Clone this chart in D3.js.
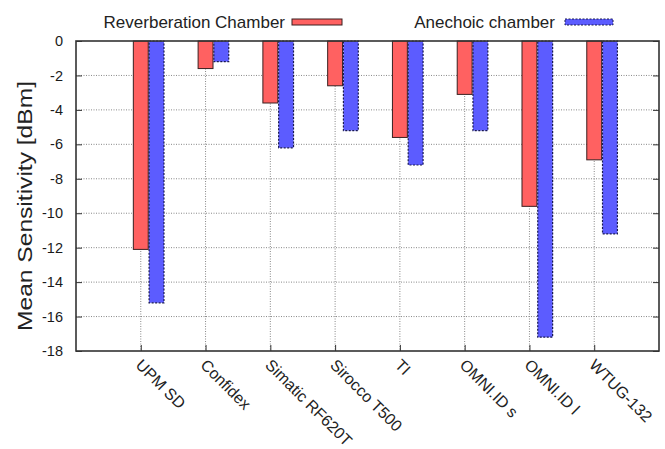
<!DOCTYPE html>
<html>
<head>
<meta charset="utf-8">
<script src="https://cdn.jsdelivr.net/npm/d3@7"></script>
<style>
  body { margin: 0; background: #fff; }
  text { font-family: "Liberation Sans", Arial, sans-serif; fill: #222; }
</style>
</head>
<body>
<div id="chart"></div>
<script>
// data
var devices = ["UPM SD", "Confidex", "Simatic RF620T", "Sirocco T500", "TI", "OMNI.ID s", "OMNI.ID l", "WTUG-132"]
var reverberation = [-12.1, -1.6, -3.6, -2.6, -5.6, -3.1, -9.6, -6.9]
var anechoic = [-15.2, -1.2, -6.2, -5.2, -7.2, -5.2, -17.2, -11.2]
var yTicks = [0, -2, -4, -6, -8, -10, -12, -14, -16, -18]
var seriesNames = ["Reverberation Chamber", "Anechoic chamber"]

const width = 665, height = 449;
const margin = {top: 41, right: 6, bottom: 98, left: 76};

var svg = d3.select('#chart').append('svg')
  .attr('width', width)
  .attr('height', height);

// gnuplot style xrange [-1:8], bars clustered right of each tick
const x = d3.scaleLinear().domain([-1, 8]).range([margin.left, width - margin.right]);
const y = d3.scaleLinear().domain([-18, 0]).range([height - margin.bottom, margin.top]);
const barW = 0.23;

// grid
svg.append('g').selectAll('line.hgrid')
  .data(yTicks.slice(1, -1))
  .enter().append('line')
    .attr('x1', x(-1)).attr('x2', x(8))
    .attr('y1', d => y(d)).attr('y2', d => y(d))
    .style('stroke', '#888').style('stroke-width', 1)
    .style('stroke-dasharray', '1,1.5');

svg.append('g').selectAll('line.vgrid')
  .data(devices)
  .enter().append('line')
    .attr('x1', (d, i) => x(i)).attr('x2', (d, i) => x(i))
    .attr('y1', y(0)).attr('y2', y(-18))
    .style('stroke', '#888').style('stroke-width', 1)
    .style('stroke-dasharray', '1,1.5');

// bars
svg.append('g').selectAll('rect')
  .data(reverberation)
  .enter().append('rect')
    .attr('x', (d, i) => x(i - barW / 2))
    .attr('y', y(0))
    .attr('width', x(barW) - x(0))
    .attr('height', d => y(d) - y(0))
    .style('fill', '#ff6161')
    .style('stroke', '#3a2020').style('stroke-width', 1);

svg.append('g').selectAll('rect')
  .data(anechoic)
  .enter().append('rect')
    .attr('x', (d, i) => x(i + barW / 2 + 0.013))
    .attr('y', y(0))
    .attr('width', x(barW) - x(0))
    .attr('height', d => y(d) - y(0))
    .style('fill', '#5c5cff')
    .style('stroke', '#1a1a50').style('stroke-width', 1.2)
    .style('stroke-dasharray', '2,1.5');

// frame
svg.append('rect')
  .attr('x', x(-1)).attr('y', y(0))
  .attr('width', x(8) - x(-1)).attr('height', y(-18) - y(0))
  .style('fill', 'none').style('stroke', '#333').style('stroke-width', 1.6);

// y axis: ticks inside on both sides
const yAxis = svg.append('g').attr('transform', `translate(${x(-1)},0)`)
  .call(d3.axisLeft(y).tickValues(yTicks).tickSize(-6).tickPadding(13).tickFormat(d3.format('d')));
yAxis.select('.domain').remove();
yAxis.selectAll('line').style('stroke', '#333');
yAxis.selectAll('text')
  .style('font-size', '14.5px').style('font-family', '"Liberation Sans", Arial, sans-serif').style('fill', '#1a1a1a')
  .text(d => d === 0 ? '0' : String(d).replace('−', '-'));

const yAxisR = svg.append('g').attr('transform', `translate(${x(8)},0)`)
  .call(d3.axisRight(y).tickValues(yTicks).tickSize(-6).tickFormat(''));
yAxisR.select('.domain').remove();
yAxisR.selectAll('line').style('stroke', '#333');

// x axis ticks inside at bottom
const xAxis = svg.append('g').attr('transform', `translate(0,${y(-18)})`)
  .call(d3.axisBottom(x).tickValues(d3.range(devices.length)).tickSize(-6).tickFormat(''));
xAxis.select('.domain').remove();
xAxis.selectAll('line').style('stroke', '#333');

svg.append('g').selectAll('text.xl')
  .data(devices)
  .enter().append('text')
    .attr('transform', (d, i) => `translate(${x(i) - 2},${y(-18) + 11}) rotate(45)`)
    .attr('text-anchor', 'start')
    .attr('dy', '0.35em')
    .style('font-size', '16px')
    .text(d => d);

// y title
svg.append('text')
  .attr('transform', `translate(32,${(y(0) + y(-18)) / 2 + 10}) rotate(-90)`)
  .attr('text-anchor', 'middle')
  .attr('textLength', 250)
  .attr('lengthAdjust', 'spacingAndGlyphs')
  .style('font-size', '21px')
  .text('Mean Sensitivity [dBm]');

// legend
const legendEnds = [285, 555];
const legendBoxes = [[292, 50], [565, 48]];
const legend = svg.append('g').selectAll('g')
  .data(seriesNames)
  .enter().append('g');

legend.append('text')
  .attr('x', (d, i) => legendEnds[i])
  .attr('y', 28)
  .attr('text-anchor', 'end')
  .style('font-size', '17px')
  .text(d => d);

legend.append('rect')
  .attr('x', (d, i) => legendBoxes[i][0])
  .attr('y', 19)
  .attr('width', (d, i) => legendBoxes[i][1])
  .attr('height', 6)
  .style('fill', (d, i) => i === 0 ? '#ff6161' : '#5c5cff')
  .style('stroke', (d, i) => i === 0 ? '#3a2020' : '#1a1a50')
  .style('stroke-dasharray', (d, i) => i === 0 ? null : '2,1.5');
</script>
</body>
</html>
